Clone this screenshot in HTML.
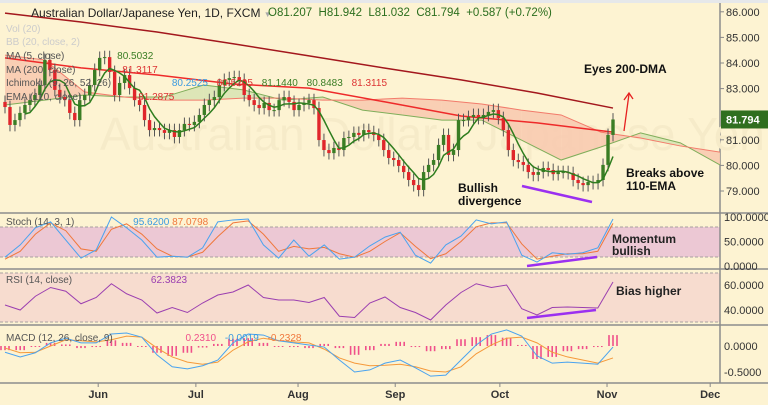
<!DOCTYPE html>
<html><head><meta charset="utf-8"><style>
body{margin:0;background:#fdf3d2;}
svg{display:block;font-family:"Liberation Sans",sans-serif;}
</style></head><body>
<svg id="c" width="768" height="405" viewBox="0 0 768 405">
<rect x="0" y="0" width="768" height="405" fill="#fdf3d2"/>
<rect x="0" y="0" width="768" height="3" fill="#e6e8ea"/>
<g id="g"></g>
</svg>
<script>
const closes=[82.28,81.58,81.77,82.05,82.36,82.55,82.75,83.14,84.12,83.73,82.95,82.67,82.55,82.05,81.77,82.55,82.75,83.14,83.73,84.20,84.23,83.65,82.75,83.22,83.53,83.02,82.55,82.36,81.77,81.38,81.46,81.38,81.27,81.38,81.11,81.38,81.62,81.58,81.70,81.97,82.36,82.55,82.67,83.14,83.34,83.41,83.45,83.34,82.75,82.55,82.36,82.24,82.44,82.16,82.16,82.55,82.67,82.48,82.16,82.36,82.44,82.55,82.24,80.99,80.60,80.48,80.68,80.60,81.07,81.11,81.27,81.19,81.38,81.30,81.19,80.99,80.60,80.29,80.21,79.98,79.74,79.43,79.23,79.04,79.74,80.02,80.21,80.80,81.19,80.41,80.60,81.77,81.77,81.89,81.97,81.85,81.97,82.09,82.16,81.85,81.38,80.60,80.21,80.13,80.02,79.74,79.63,79.74,79.90,79.82,79.66,79.74,79.74,79.70,79.43,79.31,79.23,79.35,79.31,79.43,80.02,81.19,81.794];
const ma200=[85.95,85.60,85.21,84.75,84.28,83.80,83.34,82.83,82.24];
const ema110=[84.20,83.81,83.53,83.18,83.02,82.48,81.93,81.66,81.30];
const spanA=[82.36,82.55,82.75,82.67,82.67,83.14,82.95,82.55,82.67,82.16,81.97,81.77,81.77,80.99,80.21,80.72,81.27,80.88,80.02];
const spanB=[84.31,84.12,82.87,82.67,82.55,82.55,82.63,82.63,82.55,82.55,82.63,82.55,82.40,82.16,81.97,81.30,81.07,80.76,80.52];
const stochK=[18,43,78,90,53,16,33,100,78,53,18,20,18,37,90,94,96,43,16,53,20,43,14,18,41,59,69,22,6,43,61,94,86,90,22,8,27,24,27,37,96];
const stochD=[14,30,65,88,72,35,30,75,86,65,35,20,18,28,60,88,92,65,30,40,35,38,25,18,30,50,68,40,15,25,50,80,88,88,45,14,20,25,25,30,87];
const rsi=[44,40,51,58,55,45,50,61,53,48,37.6,42,38,45.6,52,54.4,60,50,48,48,46,50,35,34,45.6,50.4,42,38,32,44,54,61,58,60,41,36,42,42.4,42,41.6,62.4];
const macd=[-0.12,-0.21,-0.13,0.06,0.15,0.06,0.06,0.23,0.25,0.17,-0.17,-0.40,-0.44,-0.38,-0.27,0.06,0.23,0.21,0.10,0.06,0.02,-0.02,-0.27,-0.5,-0.46,-0.33,-0.27,-0.42,-0.58,-0.56,-0.27,0.02,0.23,0.31,0.19,-0.19,-0.33,-0.31,-0.33,-0.35,-0.02];
const signal=[-0.04,-0.13,-0.12,0,0.12,0.10,0.08,0.12,0.19,0.17,-0.04,-0.21,-0.31,-0.35,-0.31,-0.08,0.08,0.15,0.10,0.08,0.06,-0.06,-0.23,-0.33,-0.38,-0.37,-0.35,-0.40,-0.48,-0.5,-0.40,-0.15,0.02,0.15,0.17,0.06,-0.12,-0.21,-0.27,-0.33,-0.23];
const priceTicks=[86,85,84,83,81,80,79];
const stochTicks=[100,50,0];
const rsiTicks=[60,40];
const macdTicks=[0,-0.5];
const months=["Jun","Jul","Aug","Sep","Oct","Nov","Dec"];
const monthBar=[18.7,38.3,58.8,78.3,99.3,120.8,141.5];

const NS="http://www.w3.org/2000/svg";
const G=document.getElementById('g');
function mk(t,a,p){const e=document.createElementNS(NS,t);for(const k in a)e.setAttribute(k,a[k]);(p||G).appendChild(e);return e;}
const X0=5,X1=613,n=closes.length;
const bx=i=>X0+i*(X1-X0)/(n-1);
const sx=(i,len,end)=>X0+i*((end||X1)-X0)/(len-1);
const py=p=>63+(84-p)*25.6;
const sty=v=>266-v*0.49;
const ry=v=>285+(60-v)*1.25;
const my=v=>346-v*52;
const dayX=b=>X0+b*(X1-X0)/(n-1);

let e;
e=mk('rect',{x:0,y:227,width:720,height:30,fill:'#ecc8d4'});

e=mk('rect',{x:0,y:273,width:720,height:49,fill:'#f7dccf'});

[[227],[257],[273],[322]].forEach(r=>{const l=mk('line',{x1:0,x2:720,y1:r[0],y2:r[0],stroke:'#a8a0a0','stroke-dasharray':'3,2','stroke-width':1});});
[213,269,325,383].forEach(y=>{const l=mk('line',{x1:0,x2:768,y1:y,y2:y,stroke:'#8c8c8c','stroke-width':1.5});});
e=mk('line',{x1:720,x2:720,y1:3,y2:383,stroke:'#8c8c8c','stroke-width':1.5});


e=mk('text',{x:100,y:150,'font-size':46,fill:'#f6ebc9'});e.textContent='Australian Dollar / Japanese Yen';


const cl=spanA.length;
for(let i=0;i<cl-1;i++){
  const xa=sx(i,cl,720),xb=sx(i+1,cl,720);
  const green=(spanA[i]+spanA[i+1])>(spanB[i]+spanB[i+1]);
  const q=mk('polygon',{points:`${xa},${py(spanA[i])} ${xb},${py(spanA[i+1])} ${xb},${py(spanB[i+1])} ${xa},${py(spanB[i])}`,fill:green?'#d9e4b4':'#f8cbb0',opacity:0.9});
  
}
function line(arr,xf,yf,col,w,name){const p=arr.map((v,i)=>xf(i)+','+yf(v)).join(' ');const l=mk('polyline',{points:p,fill:'none',stroke:col,'stroke-width':w});return l;}
line(spanA,i=>sx(i,cl,720),py,'#7fae5a',1,'ichimoku-span-a');
line(spanB,i=>sx(i,cl,720),py,'#f27b6b',1,'ichimoku-span-b');
line(ma200,i=>sx(i,ma200.length),py,'#a3171d',1.5,'ma200-line');
line(ema110,i=>sx(i,ema110.length),py,'#ee2a2a',1.5,'ema110-line');

for(let i=0;i<n;i++){
  const c=closes[i],o=i?closes[i-1]:c+0.2;
  const hi=Math.max(o,c)+0.25,lo=Math.min(o,c)-0.25;
  const up=c>=o,col=up?'#3a7d24':'#e0262b',x=bx(i);
  const w=mk('line',{x1:x,x2:x,y1:py(hi),y2:py(lo),stroke:'#555',"stroke-width":1});
  
  const r=mk('rect',{x:x-1.7,y:py(Math.max(o,c)),width:3.4,height:Math.max(1,Math.abs(py(o)-py(c))),fill:col});
  
}
const ma5=[];for(let i=4;i<n;i++){let s=0;for(let k=0;k<5;k++)s+=closes[i-k];ma5.push(s/5);}
line(ma5,i=>bx(i+4),py,'#2e7d1e',1.5,'ma5-line');

const L=stochK.length;
line(stochD,i=>sx(i,L),sty,'#f0783c',1,'stoch-d-line');
line(stochK,i=>sx(i,L),sty,'#4aa3ef',1,'stoch-k-line');
line(rsi,i=>sx(i,rsi.length),ry,'#9b3fb0',1,'rsi-line');
for(let i=0;i<macd.length;i++){const h=macd[i]-signal[i];const x=sx(i,macd.length);
 for(const dx of [-4,0,4]){const r=mk('rect',{x:x+dx-0.8,y:Math.min(my(0),my(h)),width:1.6,height:Math.max(1,Math.abs(my(h)-my(0))),fill:'#f0508a'});
 }}
line(signal,i=>sx(i,signal.length),my,'#f5993a',1,'macd-signal-line');
line(macd,i=>sx(i,macd.length),my,'#4aa3ef',1,'macd-line');

function txt(x,y,s,size,fill,name,extra){const t=mk('text',Object.assign({x:x,y:y,'font-size':size,fill:fill},extra||{}));t.textContent=s;return t;}
priceTicks.forEach(p=>{txt(726,py(p)+4,p.toFixed(3),11,'#333','price-tick-label');mk('line',{x1:720,x2:724,y1:py(p),y2:py(p),stroke:'#888'});});
stochTicks.forEach(v=>txt(724,sty(v)+4,v.toFixed(4),11,'#333','stoch-tick-label'));
rsiTicks.forEach(v=>txt(724,ry(v)+4,v.toFixed(4),11,'#333','rsi-tick-label'));
macdTicks.forEach(v=>txt(724,my(v)+4,(v<0?'-':'')+Math.abs(v).toFixed(4),11,'#333','macd-tick-label'));
months.forEach((m,i)=>{const x=dayX(monthBar[i]);mk('line',{x1:x,x2:x,y1:383,y2:387,stroke:'#888'});txt(x,398,m,11,'#333','month-label',{'text-anchor':'middle','font-weight':'bold'});});
e=mk('rect',{x:721,y:py(closes[n-1])-9,width:47,height:18,fill:'#2f6f1f'});

txt(726,py(closes[n-1])+4,closes[n-1].toFixed(3),11,'#fff','last-price-label',{'font-weight':'bold'});
</script>
<div style="position:absolute;left:0;top:0;width:768px;height:405px;pointer-events:none;font-family:'Liberation Sans',sans-serif;">
<div style="position:absolute;left:31px;top:6px;font-size:12px;color:#222;">Australian Dollar/Japanese Yen, 1D, FXCM <span style="color:#aaa;font-size:8px">▼</span></div>
<div style="position:absolute;left:268px;top:7px;font-size:11.5px;color:#2b6e1e;">O81.207 &nbsp;H81.942 &nbsp;L81.032 &nbsp;C81.794 &nbsp;+0.587 (+0.72%)</div>
<div style="position:absolute;left:6px;top:24px;font-size:10px;color:#ccc;">Vol (20)</div>
<div style="position:absolute;left:6px;top:37px;font-size:10px;color:#ccc;">BB (20, close, 2)</div>
<div style="position:absolute;left:6px;top:51px;font-size:10px;color:#555;">MA (5, close) <span style="margin-left:50px;color:#3a7d24">80.5032</span></div>
<div style="position:absolute;left:6px;top:65px;font-size:10px;color:#555;">MA (200, close) <span style="margin-left:44px;color:#d33">81.3117</span></div>
<div style="position:absolute;left:6px;top:78px;font-size:10px;color:#555;">Ichimoku (9, 26, 52, 26) <span style="margin-left:58px;color:#3a9ae0">80.2525</span> <span style="margin-left:6px;color:#d33">80.5205</span> <span style="margin-left:6px;color:#3a7d24">81.1440</span> <span style="margin-left:6px;color:#3a7d24">80.8483</span> <span style="margin-left:6px;color:#d33">81.3115</span></div>
<div style="position:absolute;left:6px;top:92px;font-size:10px;color:#555;">EMA (110, close) <span style="margin-left:54px;color:#d33">81.2875</span></div>
<div style="position:absolute;left:6px;top:217px;font-size:10px;color:#555;">Stoch (14, 3, 1) <span style="margin-left:56px;color:#3a9ae0">95.6200</span> <span style="color:#f0783c">87.0798</span></div>
<div style="position:absolute;left:6px;top:275px;font-size:10px;color:#555;">RSI (14, close) <span style="margin-left:76px;color:#9b3fb0">62.3823</span></div>
<div style="position:absolute;left:6px;top:333px;font-size:10px;color:#555;">MACD (12, 26, close, 9) <span style="margin-left:70px;color:#f0508a">0.2310</span> <span style="margin-left:6px;color:#3a9ae0">-0.0019</span> <span style="margin-left:6px;color:#f0783c">-0.2328</span></div>
<div style="position:absolute;left:584px;top:62px;font-size:12px;font-weight:bold;color:#111;">Eyes 200-DMA</div>
<div style="position:absolute;left:458px;top:182px;font-size:12px;font-weight:bold;color:#111;line-height:13px;">Bullish<br>divergence</div>
<div style="position:absolute;left:626px;top:167px;font-size:12px;font-weight:bold;color:#111;line-height:13px;">Breaks above<br>110-EMA</div>
<div style="position:absolute;left:612px;top:233px;font-size:12px;font-weight:bold;color:#222;line-height:12px;">Momentum<br>bullish</div>
<div style="position:absolute;left:616px;top:284px;font-size:12px;font-weight:bold;color:#222;">Bias higher</div>
</div>
<svg width="768" height="405" style="position:absolute;left:0;top:0;pointer-events:none">
<line x1="522" y1="186" x2="592" y2="202" stroke="#9b30f0" stroke-width="2.5"/>
<line x1="527" y1="266" x2="597" y2="257" stroke="#9b30f0" stroke-width="2.5"/>
<line x1="527" y1="318" x2="596" y2="310" stroke="#9b30f0" stroke-width="2.5"/>
<line x1="624" y1="131" x2="629" y2="94" stroke="#e62020" stroke-width="1.3"/>
<polyline points="624,100 629,93 633,99" fill="none" stroke="#e62020" stroke-width="1.3"/>
</svg>
</body></html>
